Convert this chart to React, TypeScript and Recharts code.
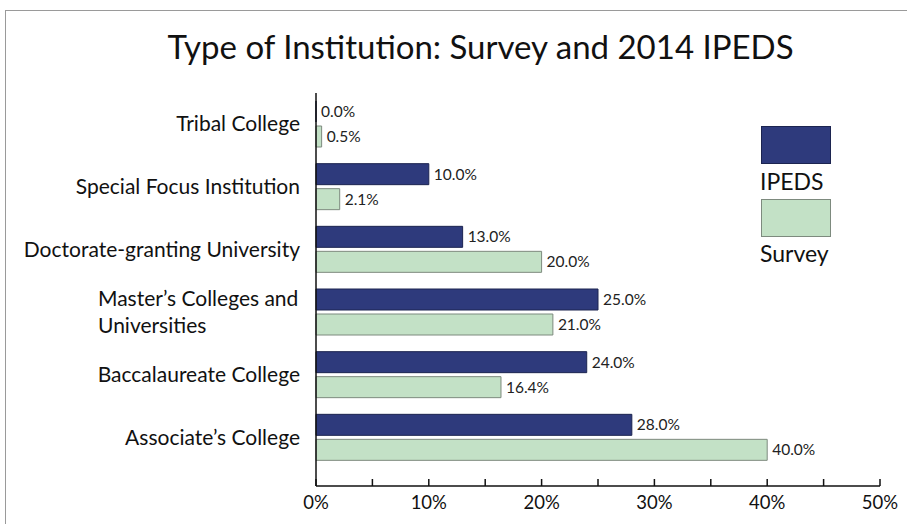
import React from "react";
import { BarChart, Bar, XAxis, YAxis, LabelList } from "recharts";

/* ─── Data ─────────────────────────── */
const categories = [
  "Tribal College",
  "Special Focus Institution",
  "Doctorate-granting University",
  "Master\u2019s Colleges and Universities",
  "Baccalaureate College",
  "Associate\u2019s College",
];
const ipeds = [0.0, 10.0, 13.0, 25.0, 24.0, 28.0];
const survey = [0.5, 2.1, 20.0, 21.0, 16.4, 40.0];
const xTicks = [0, 5, 10, 15, 20, 25, 30, 35, 40, 45, 50];
const seriesNames = ["IPEDS", "Survey"];

const data = categories.map((name, i) => ({ name, ipeds: ipeds[i], survey: survey[i] }));

const FONT = "Lato, 'Open Sans', sans-serif";
const NAVY = "#2e3a7c";
const NAVY_EDGE = "#1c2450";
const GREEN = "#c3e1c6";
const GREEN_EDGE = "#7d8a7e";

const CategoryTick = ({ x, y, payload }: any) => {
  const label: string = payload.value;
  if (label.startsWith("Master")) {
    return (
      <text x={x - 218} y={y} fontSize={21} fill="#111" fontFamily={FONT} textAnchor="start">
        <tspan x={x - 218} dy={-6}>Master’s Colleges and</tspan>
        <tspan x={x - 218} dy={27}>Universities</tspan>
      </text>
    );
  }
  return (
    <text x={x - 16} y={y} dy={7} fontSize={21} fill="#111" fontFamily={FONT} textAnchor="end">
      {label}
    </text>
  );
};

const PercentTick = ({ x, y, payload }: any) => {
  const major = payload.value % 10 === 0;
  return (
    <g>
      <line x1={x} x2={x} y1={y - 7} y2={y} stroke="#111" strokeWidth={1.5} />
      {major && (
        <text x={x} y={y + 23} fontSize={18.5} fill="#111" fontFamily={FONT} textAnchor="middle">
          {payload.value}%
        </text>
      )}
    </g>
  );
};

const labelFmt = (v: any) => `${Number(v).toFixed(1)}%`;
const labelStyle = { fontSize: 15.5, fill: "#222", fontFamily: FONT };

export default function App() {
  return (
    <div style={{ position: "absolute", left: 0, top: 0, width: 907, height: 524, background: "#fff", overflow: "hidden" }}>
      <div style={{ position: "absolute", left: 5, top: 10, width: 920, height: 540, border: "1.5px solid #9a9a9a" }} />
      <div
        style={{
          position: "absolute", left: 0, top: 26, width: 961, textAlign: "center",
          fontFamily: FONT, fontSize: 33, color: "#111", lineHeight: "40px",
        }}
      >
        Type of Institution: Survey and 2014 IPEDS
      </div>
      <div style={{ position: "absolute", left: 0, top: 0 }}>
        <BarChart
          width={907}
          height={524}
          data={data}
          layout="vertical"
          margin={{ top: 93, right: 27, left: 0, bottom: 8 }}
          barSize={21}
          barGap={4}
        >
          <XAxis
            type="number"
            domain={[0, 50]}
            ticks={xTicks}
            interval={0}
            tickSize={0}
            tickMargin={0}
            tick={<PercentTick />}
            axisLine={{ stroke: "#111", strokeWidth: 1.5 }}
            height={30}
          />
          <YAxis
            type="category"
            dataKey="name"
            width={316}
            tickSize={0}
            tickMargin={0}
            tick={<CategoryTick />}
            axisLine={{ stroke: "#111", strokeWidth: 1.5 }}
            padding={{ top: 0, bottom: 17 }}
            interval={0}
          />
          <Bar dataKey="ipeds" name={seriesNames[0]} fill={NAVY} stroke={NAVY_EDGE} strokeWidth={1} minPointSize={0.01} isAnimationActive={false}>
            <LabelList dataKey="ipeds" position="right" offset={5} formatter={labelFmt} style={labelStyle} />
          </Bar>
          <Bar dataKey="survey" name={seriesNames[1]} fill={GREEN} stroke={GREEN_EDGE} strokeWidth={1} isAnimationActive={false}>
            <LabelList dataKey="survey" position="right" offset={5} formatter={labelFmt} style={labelStyle} />
          </Bar>
        </BarChart>
      </div>
      <div style={{ position: "absolute", left: 761, top: 126, fontFamily: FONT, fontSize: 23, color: "#111" }}>
        <div style={{ width: 68, height: 36, background: NAVY, border: `1px solid ${NAVY_EDGE}` }} />
        <div style={{ marginTop: 4, marginLeft: -1, lineHeight: "26px" }}>{seriesNames[0]}</div>
        <div style={{ width: 68, height: 36, background: GREEN, border: `1px solid ${GREEN_EDGE}`, marginTop: 5 }} />
        <div style={{ marginTop: 3, marginLeft: -1, lineHeight: "26px" }}>{seriesNames[1]}</div>
      </div>
    </div>
  );
}
